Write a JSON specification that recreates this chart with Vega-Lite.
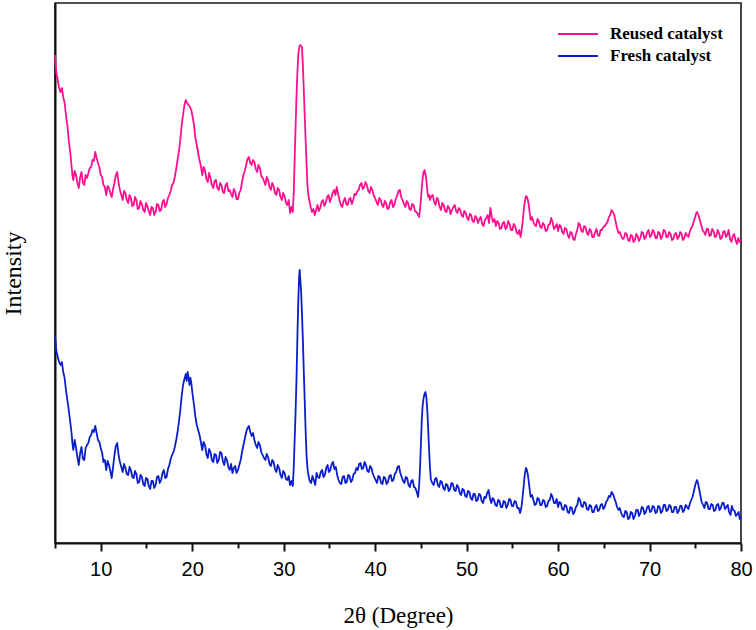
{
  "$schema": "https://vega.github.io/schema/vega-lite/v6.json",
  "width": 686,
  "height": 540,
  "autosize": "none",
  "padding": {"left": 55, "top": 3, "right": 15, "bottom": 87},
  "background": "white",
  "config": {
    "view": {"stroke": "#1a1a1a", "strokeWidth": 1.6},
    "axis": {"domainColor": "#111", "domainWidth": 2, "tickColor": "#111", "tickWidth": 2, "grid": false}
  },
  "datasets": {
    "reused": [
      {"t":5.0,"i":488},{"t":5.15,"i":470},{"t":5.3,"i":463},{"t":5.45,"i":455},{"t":5.6,"i":451},{"t":5.75,"i":455},{"t":5.9,"i":446},{"t":6.05,"i":440},{"t":6.2,"i":428},{"t":6.35,"i":418},{"t":6.5,"i":403},{"t":6.65,"i":392},{"t":6.8,"i":378},{"t":6.9,"i":368},{"t":7.0,"i":363},{"t":7.15,"i":372},{"t":7.3,"i":368},{"t":7.45,"i":360},{"t":7.6,"i":355},{"t":7.75,"i":366},{"t":7.9,"i":371},{"t":8.05,"i":360},{"t":8.2,"i":358},{"t":8.35,"i":368},{"t":8.5,"i":365},{"t":8.65,"i":370},{"t":8.8,"i":375},{"t":8.95,"i":376},{"t":9.1,"i":383},{"t":9.25,"i":382},{"t":9.4,"i":391},{"t":9.55,"i":385},{"t":9.7,"i":380},{"t":9.85,"i":376},{"t":10.0,"i":368},{"t":10.15,"i":366},{"t":10.3,"i":358},{"t":10.45,"i":356},{"t":10.6,"i":348},{"t":10.75,"i":357},{"t":10.9,"i":355},{"t":11.05,"i":350},{"t":11.2,"i":346},{"t":11.35,"i":354},{"t":11.5,"i":360},{"t":11.65,"i":368},{"t":11.8,"i":371},{"t":11.95,"i":360},{"t":12.1,"i":353},{"t":12.25,"i":348},{"t":12.4,"i":343},{"t":12.55,"i":352},{"t":12.7,"i":350},{"t":12.85,"i":343},{"t":13.0,"i":340},{"t":13.15,"i":348},{"t":13.3,"i":345},{"t":13.45,"i":337},{"t":13.6,"i":338},{"t":13.75,"i":346},{"t":13.9,"i":343},{"t":14.05,"i":334},{"t":14.2,"i":335},{"t":14.35,"i":342},{"t":14.5,"i":339},{"t":14.65,"i":333},{"t":14.8,"i":331},{"t":14.95,"i":340},{"t":15.1,"i":337},{"t":15.25,"i":332},{"t":15.4,"i":328},{"t":15.55,"i":336},{"t":15.7,"i":335},{"t":15.85,"i":328},{"t":16.0,"i":331},{"t":16.15,"i":339},{"t":16.3,"i":338},{"t":16.45,"i":332},{"t":16.6,"i":333},{"t":16.75,"i":341},{"t":16.9,"i":343},{"t":17.05,"i":336},{"t":17.2,"i":339},{"t":17.35,"i":345},{"t":17.5,"i":348},{"t":17.65,"i":352},{"t":17.8,"i":358},{"t":17.95,"i":360},{"t":18.1,"i":366},{"t":18.25,"i":374},{"t":18.4,"i":383},{"t":18.55,"i":392},{"t":18.7,"i":403},{"t":18.85,"i":418},{"t":19.0,"i":428},{"t":19.15,"i":438},{"t":19.3,"i":443},{"t":19.45,"i":440},{"t":19.6,"i":438},{"t":19.75,"i":436},{"t":19.9,"i":433},{"t":20.05,"i":426},{"t":20.2,"i":418},{"t":20.35,"i":405},{"t":20.5,"i":398},{"t":20.65,"i":390},{"t":20.8,"i":383},{"t":20.95,"i":377},{"t":21.1,"i":368},{"t":21.25,"i":376},{"t":21.4,"i":373},{"t":21.55,"i":364},{"t":21.7,"i":361},{"t":21.85,"i":370},{"t":22.0,"i":365},{"t":22.15,"i":358},{"t":22.3,"i":355},{"t":22.45,"i":362},{"t":22.6,"i":363},{"t":22.75,"i":355},{"t":22.9,"i":353},{"t":23.05,"i":360},{"t":23.2,"i":358},{"t":23.35,"i":351},{"t":23.5,"i":350},{"t":23.65,"i":358},{"t":23.8,"i":360},{"t":23.95,"i":352},{"t":24.1,"i":353},{"t":24.25,"i":349},{"t":24.4,"i":346},{"t":24.55,"i":354},{"t":24.7,"i":351},{"t":24.85,"i":344},{"t":25.0,"i":344},{"t":25.15,"i":350},{"t":25.3,"i":353},{"t":25.45,"i":361},{"t":25.6,"i":368},{"t":25.75,"i":372},{"t":25.9,"i":378},{"t":26.05,"i":384},{"t":26.2,"i":386},{"t":26.35,"i":380},{"t":26.5,"i":378},{"t":26.65,"i":383},{"t":26.8,"i":381},{"t":26.95,"i":374},{"t":27.1,"i":371},{"t":27.25,"i":378},{"t":27.4,"i":375},{"t":27.55,"i":367},{"t":27.7,"i":365},{"t":27.85,"i":362},{"t":28.0,"i":358},{"t":28.15,"i":366},{"t":28.3,"i":363},{"t":28.45,"i":356},{"t":28.6,"i":353},{"t":28.75,"i":360},{"t":28.9,"i":357},{"t":29.05,"i":350},{"t":29.2,"i":348},{"t":29.35,"i":355},{"t":29.5,"i":353},{"t":29.65,"i":346},{"t":29.8,"i":343},{"t":29.95,"i":350},{"t":30.1,"i":347},{"t":30.25,"i":340},{"t":30.4,"i":338},{"t":30.55,"i":343},{"t":30.7,"i":330},{"t":30.85,"i":336},{"t":31.0,"i":331},{"t":31.1,"i":350},{"t":31.2,"i":383},{"t":31.3,"i":415},{"t":31.4,"i":446},{"t":31.5,"i":470},{"t":31.6,"i":488},{"t":31.7,"i":496},{"t":31.8,"i":498},{"t":31.9,"i":497},{"t":32.0,"i":496},{"t":32.1,"i":478},{"t":32.2,"i":453},{"t":32.3,"i":428},{"t":32.4,"i":403},{"t":32.5,"i":380},{"t":32.6,"i":358},{"t":32.7,"i":348},{"t":32.8,"i":343},{"t":32.95,"i":336},{"t":33.1,"i":331},{"t":33.25,"i":334},{"t":33.4,"i":328},{"t":33.55,"i":333},{"t":33.7,"i":338},{"t":33.85,"i":332},{"t":34.0,"i":335},{"t":34.15,"i":341},{"t":34.3,"i":343},{"t":34.45,"i":337},{"t":34.6,"i":340},{"t":34.75,"i":346},{"t":34.9,"i":348},{"t":35.05,"i":341},{"t":35.2,"i":345},{"t":35.35,"i":350},{"t":35.5,"i":353},{"t":35.65,"i":348},{"t":35.8,"i":356},{"t":35.95,"i":349},{"t":36.1,"i":343},{"t":36.25,"i":338},{"t":36.4,"i":336},{"t":36.55,"i":342},{"t":36.7,"i":345},{"t":36.85,"i":339},{"t":37.0,"i":338},{"t":37.15,"i":344},{"t":37.3,"i":345},{"t":37.45,"i":339},{"t":37.6,"i":343},{"t":37.75,"i":349},{"t":37.9,"i":348},{"t":38.05,"i":352},{"t":38.2,"i":353},{"t":38.35,"i":358},{"t":38.5,"i":360},{"t":38.65,"i":354},{"t":38.8,"i":356},{"t":38.95,"i":361},{"t":39.1,"i":358},{"t":39.25,"i":352},{"t":39.4,"i":350},{"t":39.55,"i":356},{"t":39.7,"i":353},{"t":39.85,"i":347},{"t":40.0,"i":345},{"t":40.15,"i":341},{"t":40.3,"i":338},{"t":40.45,"i":345},{"t":40.6,"i":343},{"t":40.75,"i":338},{"t":40.9,"i":336},{"t":41.05,"i":342},{"t":41.2,"i":340},{"t":41.35,"i":334},{"t":41.5,"i":335},{"t":41.65,"i":341},{"t":41.8,"i":343},{"t":41.95,"i":336},{"t":42.1,"i":338},{"t":42.25,"i":344},{"t":42.4,"i":347},{"t":42.55,"i":352},{"t":42.7,"i":353},{"t":42.85,"i":346},{"t":43.0,"i":343},{"t":43.15,"i":339},{"t":43.3,"i":336},{"t":43.45,"i":342},{"t":43.6,"i":340},{"t":43.75,"i":334},{"t":43.9,"i":333},{"t":44.05,"i":339},{"t":44.2,"i":338},{"t":44.35,"i":332},{"t":44.5,"i":331},{"t":44.65,"i":329},{"t":44.8,"i":326},{"t":44.9,"i":333},{"t":45.0,"i":343},{"t":45.1,"i":355},{"t":45.2,"i":365},{"t":45.3,"i":371},{"t":45.4,"i":373},{"t":45.5,"i":369},{"t":45.6,"i":363},{"t":45.7,"i":353},{"t":45.8,"i":346},{"t":45.9,"i":348},{"t":46.0,"i":343},{"t":46.15,"i":347},{"t":46.3,"i":348},{"t":46.45,"i":341},{"t":46.6,"i":338},{"t":46.75,"i":345},{"t":46.9,"i":343},{"t":47.05,"i":336},{"t":47.2,"i":333},{"t":47.35,"i":340},{"t":47.5,"i":338},{"t":47.65,"i":332},{"t":47.8,"i":331},{"t":47.95,"i":337},{"t":48.1,"i":335},{"t":48.25,"i":329},{"t":48.4,"i":333},{"t":48.55,"i":336},{"t":48.7,"i":338},{"t":48.85,"i":332},{"t":49.0,"i":330},{"t":49.15,"i":335},{"t":49.3,"i":333},{"t":49.45,"i":328},{"t":49.6,"i":326},{"t":49.75,"i":332},{"t":49.9,"i":330},{"t":50.05,"i":325},{"t":50.2,"i":323},{"t":50.35,"i":329},{"t":50.5,"i":328},{"t":50.65,"i":322},{"t":50.8,"i":321},{"t":50.95,"i":327},{"t":51.1,"i":325},{"t":51.25,"i":320},{"t":51.4,"i":324},{"t":51.55,"i":326},{"t":51.7,"i":319},{"t":51.85,"i":317},{"t":52.0,"i":323},{"t":52.15,"i":325},{"t":52.3,"i":328},{"t":52.45,"i":320},{"t":52.6,"i":335},{"t":52.75,"i":326},{"t":52.9,"i":321},{"t":53.05,"i":324},{"t":53.2,"i":317},{"t":53.35,"i":322},{"t":53.5,"i":320},{"t":53.65,"i":314},{"t":53.8,"i":315},{"t":53.95,"i":320},{"t":54.1,"i":321},{"t":54.25,"i":314},{"t":54.4,"i":316},{"t":54.55,"i":322},{"t":54.7,"i":319},{"t":54.85,"i":313},{"t":55.0,"i":313},{"t":55.15,"i":319},{"t":55.3,"i":317},{"t":55.45,"i":311},{"t":55.6,"i":309},{"t":55.75,"i":313},{"t":55.9,"i":306},{"t":56.05,"i":315},{"t":56.2,"i":328},{"t":56.3,"i":337},{"t":56.4,"i":343},{"t":56.5,"i":347},{"t":56.6,"i":346},{"t":56.7,"i":343},{"t":56.8,"i":338},{"t":56.9,"i":330},{"t":57.0,"i":323},{"t":57.15,"i":326},{"t":57.3,"i":321},{"t":57.45,"i":318},{"t":57.6,"i":317},{"t":57.75,"i":324},{"t":57.9,"i":322},{"t":58.05,"i":316},{"t":58.2,"i":315},{"t":58.35,"i":320},{"t":58.5,"i":318},{"t":58.65,"i":312},{"t":58.8,"i":313},{"t":58.95,"i":318},{"t":59.1,"i":319},{"t":59.25,"i":325},{"t":59.4,"i":321},{"t":59.55,"i":314},{"t":59.7,"i":316},{"t":59.85,"i":319},{"t":60.0,"i":312},{"t":60.15,"i":318},{"t":60.3,"i":317},{"t":60.45,"i":311},{"t":60.6,"i":309},{"t":60.75,"i":315},{"t":60.9,"i":314},{"t":61.05,"i":308},{"t":61.2,"i":305},{"t":61.35,"i":311},{"t":61.5,"i":310},{"t":61.65,"i":304},{"t":61.8,"i":303},{"t":61.95,"i":309},{"t":62.1,"i":313},{"t":62.25,"i":320},{"t":62.4,"i":318},{"t":62.55,"i":312},{"t":62.7,"i":311},{"t":62.85,"i":317},{"t":63.0,"i":316},{"t":63.15,"i":310},{"t":63.3,"i":308},{"t":63.45,"i":314},{"t":63.6,"i":312},{"t":63.75,"i":306},{"t":63.9,"i":306},{"t":64.05,"i":311},{"t":64.2,"i":314},{"t":64.35,"i":308},{"t":64.5,"i":307},{"t":64.65,"i":313},{"t":64.8,"i":313},{"t":64.95,"i":316},{"t":65.1,"i":317},{"t":65.25,"i":319},{"t":65.4,"i":321},{"t":65.55,"i":326},{"t":65.7,"i":328},{"t":65.85,"i":333},{"t":66.0,"i":331},{"t":66.15,"i":328},{"t":66.3,"i":321},{"t":66.45,"i":315},{"t":66.6,"i":310},{"t":66.75,"i":311},{"t":66.9,"i":307},{"t":67.05,"i":304},{"t":67.2,"i":305},{"t":67.35,"i":310},{"t":67.5,"i":309},{"t":67.65,"i":303},{"t":67.8,"i":302},{"t":67.95,"i":308},{"t":68.1,"i":307},{"t":68.25,"i":301},{"t":68.4,"i":303},{"t":68.55,"i":309},{"t":68.7,"i":307},{"t":68.85,"i":302},{"t":69.0,"i":305},{"t":69.15,"i":311},{"t":69.3,"i":310},{"t":69.45,"i":304},{"t":69.6,"i":306},{"t":69.75,"i":311},{"t":69.9,"i":313},{"t":70.05,"i":306},{"t":70.2,"i":308},{"t":70.35,"i":313},{"t":70.5,"i":311},{"t":70.65,"i":305},{"t":70.8,"i":305},{"t":70.95,"i":311},{"t":71.1,"i":310},{"t":71.25,"i":304},{"t":71.4,"i":307},{"t":71.55,"i":313},{"t":71.7,"i":312},{"t":71.85,"i":306},{"t":72.0,"i":306},{"t":72.15,"i":311},{"t":72.3,"i":309},{"t":72.45,"i":303},{"t":72.6,"i":304},{"t":72.75,"i":309},{"t":72.9,"i":310},{"t":73.05,"i":304},{"t":73.2,"i":306},{"t":73.35,"i":311},{"t":73.5,"i":309},{"t":73.65,"i":303},{"t":73.8,"i":305},{"t":73.95,"i":310},{"t":74.1,"i":308},{"t":74.25,"i":306},{"t":74.4,"i":311},{"t":74.55,"i":315},{"t":74.7,"i":317},{"t":74.85,"i":322},{"t":75.0,"i":326},{"t":75.1,"i":330},{"t":75.2,"i":331},{"t":75.35,"i":328},{"t":75.5,"i":323},{"t":75.65,"i":318},{"t":75.8,"i":313},{"t":75.95,"i":311},{"t":76.1,"i":308},{"t":76.25,"i":314},{"t":76.4,"i":314},{"t":76.55,"i":307},{"t":76.7,"i":308},{"t":76.85,"i":314},{"t":77.0,"i":312},{"t":77.15,"i":306},{"t":77.3,"i":307},{"t":77.45,"i":313},{"t":77.6,"i":310},{"t":77.75,"i":304},{"t":77.9,"i":305},{"t":78.05,"i":311},{"t":78.2,"i":312},{"t":78.35,"i":306},{"t":78.5,"i":308},{"t":78.65,"i":313},{"t":78.8,"i":304},{"t":78.95,"i":301},{"t":79.1,"i":307},{"t":79.25,"i":309},{"t":79.4,"i":303},{"t":79.55,"i":299},{"t":79.7,"i":305},{"t":79.85,"i":301},{"t":80.0,"i":303}
    ],
    "fresh": [
      {"t":5.0,"i":208},{"t":5.15,"i":192},{"t":5.3,"i":186},{"t":5.45,"i":181},{"t":5.6,"i":178},{"t":5.75,"i":181},{"t":5.9,"i":171},{"t":6.05,"i":165},{"t":6.2,"i":153},{"t":6.35,"i":143},{"t":6.5,"i":133},{"t":6.65,"i":122},{"t":6.8,"i":111},{"t":6.9,"i":100},{"t":7.0,"i":93},{"t":7.15,"i":103},{"t":7.3,"i":95},{"t":7.45,"i":86},{"t":7.6,"i":78},{"t":7.75,"i":90},{"t":7.9,"i":96},{"t":8.05,"i":84},{"t":8.2,"i":83},{"t":8.35,"i":95},{"t":8.5,"i":98},{"t":8.65,"i":100},{"t":8.8,"i":106},{"t":8.95,"i":108},{"t":9.1,"i":113},{"t":9.25,"i":111},{"t":9.4,"i":117},{"t":9.55,"i":110},{"t":9.7,"i":103},{"t":9.85,"i":101},{"t":10.0,"i":95},{"t":10.15,"i":90},{"t":10.3,"i":81},{"t":10.45,"i":83},{"t":10.6,"i":73},{"t":10.75,"i":82},{"t":10.9,"i":78},{"t":11.05,"i":72},{"t":11.2,"i":65},{"t":11.35,"i":76},{"t":11.5,"i":88},{"t":11.65,"i":97},{"t":11.8,"i":100},{"t":11.95,"i":88},{"t":12.1,"i":81},{"t":12.25,"i":76},{"t":12.4,"i":71},{"t":12.55,"i":79},{"t":12.7,"i":75},{"t":12.85,"i":69},{"t":13.0,"i":68},{"t":13.15,"i":76},{"t":13.3,"i":73},{"t":13.45,"i":66},{"t":13.6,"i":65},{"t":13.75,"i":72},{"t":13.9,"i":69},{"t":14.05,"i":60},{"t":14.2,"i":61},{"t":14.35,"i":68},{"t":14.5,"i":66},{"t":14.65,"i":59},{"t":14.8,"i":57},{"t":14.95,"i":65},{"t":15.1,"i":64},{"t":15.25,"i":57},{"t":15.4,"i":54},{"t":15.55,"i":62},{"t":15.7,"i":62},{"t":15.85,"i":55},{"t":16.0,"i":58},{"t":16.15,"i":66},{"t":16.3,"i":67},{"t":16.45,"i":60},{"t":16.6,"i":63},{"t":16.75,"i":70},{"t":16.9,"i":73},{"t":17.05,"i":65},{"t":17.2,"i":66},{"t":17.35,"i":74},{"t":17.5,"i":78},{"t":17.65,"i":84},{"t":17.8,"i":88},{"t":17.95,"i":91},{"t":18.1,"i":96},{"t":18.25,"i":103},{"t":18.4,"i":111},{"t":18.55,"i":121},{"t":18.7,"i":133},{"t":18.85,"i":147},{"t":19.0,"i":158},{"t":19.15,"i":164},{"t":19.3,"i":169},{"t":19.4,"i":162},{"t":19.5,"i":171},{"t":19.6,"i":166},{"t":19.7,"i":158},{"t":19.8,"i":165},{"t":19.9,"i":160},{"t":20.05,"i":148},{"t":20.2,"i":138},{"t":20.35,"i":126},{"t":20.5,"i":118},{"t":20.65,"i":113},{"t":20.8,"i":108},{"t":20.95,"i":101},{"t":21.1,"i":93},{"t":21.25,"i":101},{"t":21.4,"i":98},{"t":21.55,"i":89},{"t":21.7,"i":85},{"t":21.85,"i":94},{"t":22.0,"i":91},{"t":22.15,"i":83},{"t":22.3,"i":81},{"t":22.45,"i":89},{"t":22.6,"i":88},{"t":22.75,"i":80},{"t":22.9,"i":83},{"t":23.05,"i":91},{"t":23.2,"i":90},{"t":23.35,"i":82},{"t":23.5,"i":78},{"t":23.65,"i":86},{"t":23.8,"i":83},{"t":23.95,"i":76},{"t":24.1,"i":73},{"t":24.25,"i":79},{"t":24.4,"i":70},{"t":24.55,"i":75},{"t":24.7,"i":77},{"t":24.85,"i":70},{"t":25.0,"i":73},{"t":25.15,"i":78},{"t":25.3,"i":83},{"t":25.45,"i":91},{"t":25.6,"i":98},{"t":25.75,"i":104},{"t":25.9,"i":111},{"t":26.05,"i":115},{"t":26.2,"i":117},{"t":26.35,"i":111},{"t":26.5,"i":107},{"t":26.65,"i":110},{"t":26.8,"i":103},{"t":26.95,"i":98},{"t":27.1,"i":95},{"t":27.25,"i":101},{"t":27.4,"i":98},{"t":27.55,"i":91},{"t":27.7,"i":88},{"t":27.85,"i":85},{"t":28.0,"i":83},{"t":28.15,"i":89},{"t":28.3,"i":86},{"t":28.45,"i":79},{"t":28.6,"i":77},{"t":28.75,"i":83},{"t":28.9,"i":81},{"t":29.05,"i":74},{"t":29.2,"i":71},{"t":29.35,"i":78},{"t":29.5,"i":75},{"t":29.65,"i":68},{"t":29.8,"i":65},{"t":29.95,"i":72},{"t":30.1,"i":70},{"t":30.25,"i":64},{"t":30.4,"i":63},{"t":30.55,"i":67},{"t":30.7,"i":58},{"t":30.85,"i":62},{"t":31.0,"i":57},{"t":31.1,"i":75},{"t":31.2,"i":103},{"t":31.3,"i":130},{"t":31.4,"i":163},{"t":31.5,"i":205},{"t":31.6,"i":243},{"t":31.7,"i":268},{"t":31.75,"i":273},{"t":31.8,"i":266},{"t":31.9,"i":253},{"t":32.0,"i":230},{"t":32.1,"i":203},{"t":32.2,"i":172},{"t":32.3,"i":143},{"t":32.4,"i":112},{"t":32.5,"i":88},{"t":32.6,"i":75},{"t":32.7,"i":68},{"t":32.85,"i":62},{"t":33.0,"i":60},{"t":33.15,"i":67},{"t":33.3,"i":63},{"t":33.45,"i":58},{"t":33.6,"i":70},{"t":33.75,"i":66},{"t":33.9,"i":65},{"t":34.05,"i":71},{"t":34.2,"i":73},{"t":34.35,"i":66},{"t":34.5,"i":68},{"t":34.65,"i":75},{"t":34.8,"i":78},{"t":34.95,"i":71},{"t":35.1,"i":73},{"t":35.25,"i":79},{"t":35.4,"i":81},{"t":35.55,"i":74},{"t":35.7,"i":76},{"t":35.85,"i":68},{"t":36.0,"i":63},{"t":36.15,"i":60},{"t":36.3,"i":59},{"t":36.45,"i":66},{"t":36.6,"i":67},{"t":36.75,"i":60},{"t":36.9,"i":61},{"t":37.05,"i":68},{"t":37.2,"i":67},{"t":37.35,"i":61},{"t":37.5,"i":63},{"t":37.65,"i":69},{"t":37.8,"i":70},{"t":37.95,"i":75},{"t":38.1,"i":73},{"t":38.25,"i":79},{"t":38.4,"i":80},{"t":38.55,"i":74},{"t":38.7,"i":75},{"t":38.85,"i":81},{"t":39.0,"i":78},{"t":39.15,"i":72},{"t":39.3,"i":71},{"t":39.45,"i":77},{"t":39.6,"i":75},{"t":39.75,"i":69},{"t":39.9,"i":66},{"t":40.05,"i":63},{"t":40.2,"i":60},{"t":40.35,"i":67},{"t":40.5,"i":66},{"t":40.65,"i":60},{"t":40.8,"i":59},{"t":40.95,"i":66},{"t":41.1,"i":65},{"t":41.25,"i":59},{"t":41.4,"i":61},{"t":41.55,"i":67},{"t":41.7,"i":68},{"t":41.85,"i":62},{"t":42.0,"i":63},{"t":42.15,"i":69},{"t":42.3,"i":71},{"t":42.45,"i":76},{"t":42.6,"i":77},{"t":42.75,"i":70},{"t":42.9,"i":66},{"t":43.05,"i":62},{"t":43.2,"i":60},{"t":43.35,"i":66},{"t":43.5,"i":65},{"t":43.65,"i":58},{"t":43.8,"i":56},{"t":43.95,"i":62},{"t":44.1,"i":63},{"t":44.25,"i":56},{"t":44.4,"i":55},{"t":44.55,"i":51},{"t":44.7,"i":46},{"t":44.8,"i":56},{"t":44.9,"i":73},{"t":45.0,"i":98},{"t":45.1,"i":123},{"t":45.2,"i":138},{"t":45.3,"i":145},{"t":45.4,"i":149},{"t":45.5,"i":151},{"t":45.6,"i":146},{"t":45.7,"i":133},{"t":45.8,"i":114},{"t":45.9,"i":93},{"t":46.0,"i":75},{"t":46.1,"i":63},{"t":46.25,"i":60},{"t":46.4,"i":58},{"t":46.55,"i":64},{"t":46.7,"i":65},{"t":46.85,"i":58},{"t":47.0,"i":56},{"t":47.15,"i":62},{"t":47.3,"i":61},{"t":47.45,"i":55},{"t":47.6,"i":53},{"t":47.75,"i":59},{"t":47.9,"i":58},{"t":48.05,"i":52},{"t":48.2,"i":54},{"t":48.35,"i":60},{"t":48.5,"i":59},{"t":48.65,"i":53},{"t":48.8,"i":52},{"t":48.95,"i":58},{"t":49.1,"i":56},{"t":49.25,"i":50},{"t":49.4,"i":48},{"t":49.55,"i":54},{"t":49.7,"i":53},{"t":49.85,"i":47},{"t":50.0,"i":46},{"t":50.15,"i":52},{"t":50.3,"i":51},{"t":50.45,"i":45},{"t":50.6,"i":43},{"t":50.75,"i":49},{"t":50.9,"i":49},{"t":51.05,"i":42},{"t":51.2,"i":43},{"t":51.35,"i":49},{"t":51.5,"i":48},{"t":51.65,"i":42},{"t":51.8,"i":40},{"t":51.95,"i":46},{"t":52.1,"i":45},{"t":52.25,"i":50},{"t":52.4,"i":53},{"t":52.55,"i":45},{"t":52.7,"i":40},{"t":52.85,"i":45},{"t":53.0,"i":43},{"t":53.15,"i":38},{"t":53.3,"i":37},{"t":53.45,"i":43},{"t":53.6,"i":42},{"t":53.75,"i":36},{"t":53.9,"i":36},{"t":54.05,"i":42},{"t":54.2,"i":41},{"t":54.35,"i":35},{"t":54.5,"i":38},{"t":54.65,"i":44},{"t":54.8,"i":43},{"t":54.95,"i":37},{"t":55.1,"i":37},{"t":55.25,"i":42},{"t":55.4,"i":41},{"t":55.55,"i":35},{"t":55.7,"i":35},{"t":55.85,"i":30},{"t":56.0,"i":36},{"t":56.1,"i":44},{"t":56.2,"i":53},{"t":56.3,"i":63},{"t":56.4,"i":71},{"t":56.5,"i":75},{"t":56.6,"i":73},{"t":56.7,"i":68},{"t":56.8,"i":61},{"t":56.9,"i":53},{"t":57.0,"i":46},{"t":57.15,"i":48},{"t":57.3,"i":43},{"t":57.45,"i":38},{"t":57.6,"i":39},{"t":57.75,"i":45},{"t":57.9,"i":44},{"t":58.05,"i":38},{"t":58.2,"i":38},{"t":58.35,"i":43},{"t":58.5,"i":42},{"t":58.65,"i":36},{"t":58.8,"i":37},{"t":58.95,"i":42},{"t":59.1,"i":43},{"t":59.25,"i":49},{"t":59.4,"i":46},{"t":59.55,"i":40},{"t":59.7,"i":40},{"t":59.85,"i":44},{"t":60.0,"i":36},{"t":60.15,"i":41},{"t":60.3,"i":40},{"t":60.45,"i":34},{"t":60.6,"i":33},{"t":60.75,"i":38},{"t":60.9,"i":37},{"t":61.05,"i":31},{"t":61.2,"i":30},{"t":61.35,"i":36},{"t":61.5,"i":35},{"t":61.65,"i":29},{"t":61.8,"i":31},{"t":61.95,"i":36},{"t":62.1,"i":38},{"t":62.25,"i":45},{"t":62.4,"i":43},{"t":62.55,"i":37},{"t":62.7,"i":36},{"t":62.85,"i":41},{"t":63.0,"i":40},{"t":63.15,"i":34},{"t":63.3,"i":33},{"t":63.45,"i":38},{"t":63.6,"i":37},{"t":63.75,"i":31},{"t":63.9,"i":31},{"t":64.05,"i":36},{"t":64.2,"i":38},{"t":64.35,"i":32},{"t":64.5,"i":33},{"t":64.65,"i":38},{"t":64.8,"i":39},{"t":64.95,"i":34},{"t":65.1,"i":36},{"t":65.25,"i":41},{"t":65.4,"i":43},{"t":65.55,"i":47},{"t":65.7,"i":46},{"t":65.85,"i":51},{"t":66.0,"i":49},{"t":66.15,"i":45},{"t":66.3,"i":41},{"t":66.45,"i":36},{"t":66.6,"i":33},{"t":66.75,"i":35},{"t":66.9,"i":30},{"t":67.05,"i":27},{"t":67.2,"i":26},{"t":67.35,"i":32},{"t":67.5,"i":31},{"t":67.65,"i":24},{"t":67.8,"i":25},{"t":67.95,"i":31},{"t":68.1,"i":30},{"t":68.25,"i":24},{"t":68.4,"i":27},{"t":68.55,"i":33},{"t":68.7,"i":33},{"t":68.85,"i":27},{"t":69.0,"i":30},{"t":69.15,"i":36},{"t":69.3,"i":35},{"t":69.45,"i":29},{"t":69.6,"i":31},{"t":69.75,"i":36},{"t":69.9,"i":37},{"t":70.05,"i":31},{"t":70.2,"i":32},{"t":70.35,"i":37},{"t":70.5,"i":36},{"t":70.65,"i":30},{"t":70.8,"i":31},{"t":70.95,"i":37},{"t":71.1,"i":36},{"t":71.25,"i":30},{"t":71.4,"i":32},{"t":71.55,"i":38},{"t":71.7,"i":38},{"t":71.85,"i":32},{"t":72.0,"i":33},{"t":72.15,"i":38},{"t":72.3,"i":37},{"t":72.45,"i":31},{"t":72.6,"i":31},{"t":72.75,"i":36},{"t":72.9,"i":36},{"t":73.05,"i":30},{"t":73.2,"i":32},{"t":73.35,"i":37},{"t":73.5,"i":37},{"t":73.65,"i":31},{"t":73.8,"i":33},{"t":73.95,"i":38},{"t":74.1,"i":36},{"t":74.25,"i":34},{"t":74.4,"i":39},{"t":74.55,"i":43},{"t":74.7,"i":46},{"t":74.85,"i":52},{"t":75.0,"i":58},{"t":75.1,"i":61},{"t":75.2,"i":63},{"t":75.3,"i":60},{"t":75.4,"i":55},{"t":75.55,"i":48},{"t":75.7,"i":41},{"t":75.85,"i":38},{"t":76.0,"i":35},{"t":76.15,"i":41},{"t":76.3,"i":40},{"t":76.45,"i":34},{"t":76.6,"i":34},{"t":76.75,"i":39},{"t":76.9,"i":38},{"t":77.05,"i":32},{"t":77.2,"i":33},{"t":77.35,"i":38},{"t":77.5,"i":39},{"t":77.65,"i":33},{"t":77.8,"i":35},{"t":77.95,"i":40},{"t":78.1,"i":40},{"t":78.25,"i":34},{"t":78.4,"i":36},{"t":78.55,"i":38},{"t":78.7,"i":31},{"t":78.85,"i":28},{"t":79.0,"i":37},{"t":79.15,"i":33},{"t":79.3,"i":32},{"t":79.45,"i":27},{"t":79.6,"i":29},{"t":79.75,"i":31},{"t":79.85,"i":24},{"t":80.0,"i":26}
    ]
  },
  "encoding": {
    "x": {
      "field": "t",
      "type": "quantitative",
      "scale": {"domain": [5, 80], "nice": false, "zero": false},
      "axis": {
        "title": "2θ (Degree)",
        "titleFont": "Liberation Serif",
        "titleFontSize": 23,
        "titleFontWeight": "normal",
        "titleColor": "#000",
        "titlePadding": 25,
        "values": [5, 10, 15, 20, 25, 30, 35, 40, 45, 50, 55, 60, 65, 70, 75, 80],
        "labelExpr": "datum.value % 10 === 0 ? datum.label : ''",
        "labelFont": "Liberation Sans",
        "labelFontSize": 20,
        "labelColor": "#000",
        "labelPadding": 8,
        "tickSize": {"condition": {"test": "datum.value % 10 === 0", "value": 8}, "value": 5},
        "labelFlush": false
      }
    },
    "y": {
      "field": "i",
      "type": "quantitative",
      "scale": {"domain": [0, 540], "nice": false, "zero": false},
      "axis": {
        "title": "Intensity",
        "titleFont": "Liberation Serif",
        "titleFontSize": 24,
        "titleFontWeight": "normal",
        "titleColor": "#000",
        "titlePadding": 30,
        "labels": false,
        "ticks": false
      }
    }
  },
  "layer": [
    {
      "data": {"name": "reused"},
      "mark": {"type": "line", "strokeWidth": 1.8, "strokeJoin": "round"},
      "encoding": {
        "color": {
          "datum": "Reused catalyst",
          "type": "nominal",
          "scale": {"domain": ["Reused catalyst", "Fresh catalyst"], "range": ["#ff0f8f", "#0a1ecc"]},
          "legend": {
            "title": null,
            "orient": "none",
            "legendX": 512,
            "legendY": 20,
            "symbolType": "M-2,0H2",
            "symbolSize": 400,
            "symbolStrokeWidth": 2,
            "labelFont": "Liberation Serif",
            "labelFontSize": 17,
            "labelFontWeight": "bold",
            "labelColor": "#000",
            "labelOffset": 21,
            "rowPadding": 3
          }
        }
      }
    },
    {
      "data": {"name": "fresh"},
      "mark": {"type": "line", "strokeWidth": 1.8, "strokeJoin": "round"},
      "encoding": {
        "color": {"datum": "Fresh catalyst", "type": "nominal"}
      }
    }
  ]
}
